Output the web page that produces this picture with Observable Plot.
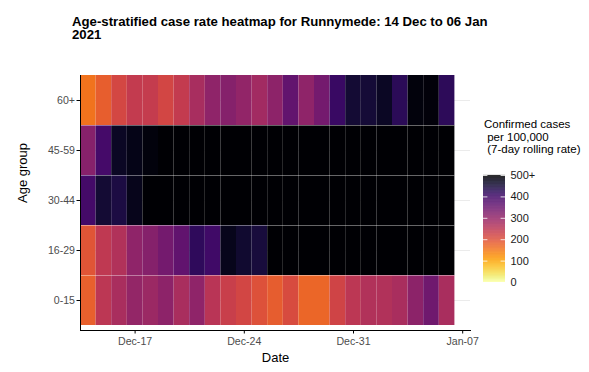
<!DOCTYPE html>
<html>
<head>
<meta charset="utf-8">
<script src="https://cdn.jsdelivr.net/npm/d3@7"></script>
<script src="https://cdn.jsdelivr.net/npm/@observablehq/plot@0.6"></script>
<style>
  body { margin: 0; background: #fff; }
  #chart { position: relative; width: 589px; height: 372px; background: #fff; font-family: "Liberation Sans", Arial, sans-serif; }
  #title { position: absolute; z-index: 2; left: 72px; top: 16px; font-weight: bold; font-size: 13.2px; line-height: 12.5px; color: #000; white-space: pre; }
  #legend-title { position: absolute; z-index: 2; left: 484px; top: 118px; font-size: 11.5px; line-height: 12.5px; color: #000; white-space: pre; }
  #main { position: absolute; z-index: 1; left: 0; top: 0; }
  #legend { position: absolute; z-index: 3; left: 475px; top: 165px; }
  g[aria-label="x-axis tick label"], g[aria-label="y-axis tick label"] { fill: #4d4d4d; }
</style>
</head>
<body>
<div id="chart">
  <div id="title">Age-stratified case rate heatmap for Runnymede: 14 Dec to 06 Jan
2021</div>
  <div id="legend-title">Confirmed cases
 per 100,000
 (7-day rolling rate)</div>
  <div id="main"></div>
  <div id="legend"></div>
</div>
<script>
const dates = ["2020-12-14","2020-12-15","2020-12-16","2020-12-17","2020-12-18","2020-12-19",
  "2020-12-20","2020-12-21","2020-12-22","2020-12-23","2020-12-24","2020-12-25",
  "2020-12-26","2020-12-27","2020-12-28","2020-12-29","2020-12-30","2020-12-31",
  "2021-01-01","2021-01-02","2021-01-03","2021-01-04","2021-01-05","2021-01-06"];
const ageGroups = ["60+", "45-59", "30-44", "16-29", "0-15"];
const rate60plus = [155,180,215,240,238,218,240,275,305,318,302,282,308,360,305,338,410,455,452,468,425,490,492,422];
const rate45to59 = [315,395,468,480,490,560,590,610,630,650,660,670,650,640,620,600,590,580,570,560,555,550,545,540];
const rate30to44 = [398,455,442,475,520,560,590,620,640,660,670,665,650,640,630,610,600,590,580,570,560,555,550,545];
const rate16to29 = [195,245,262,305,318,338,362,420,402,475,458,448,510,530,560,580,600,610,590,580,570,560,550,540];
const rate0to15  = [178,250,272,300,290,308,272,305,252,232,218,200,182,210,170,170,222,250,262,262,272,310,345,272];
const xTicks = ["2020-12-17","2020-12-24","2020-12-31","2021-01-07"];
const xDomain = ["2020-12-13T12:00Z","2021-01-07T12:00Z"];
const legendBreaks = [0,100,200,300,400,500];

const seriesByAge = {"60+": rate60plus, "45-59": rate45to59, "30-44": rate30to44, "16-29": rate16to29, "0-15": rate0to15};
const halfDay = 12 * 3600 * 1000;
const rows = ageGroups.flatMap(age => dates.map((d, i) => {
  const t = new Date(d + "T00:00Z");
  return {age, date: t, x1: new Date(+t - halfDay), x2: new Date(+t + halfDay), rate: seriesByAge[age][i]};
}));

const colorScale = {type: "linear", domain: [0, 500], interpolate: t => d3.interpolateInferno(1 - t), clamp: true};

const main = Plot.plot({
  width: 589, height: 372,
  marginTop: 75, marginBottom: 42, marginLeft: 80, marginRight: 119,
  style: {fontFamily: "'Liberation Sans', Arial, sans-serif", fontSize: "10.6px", background: "transparent", color: "black"},
  x: {type: "utc", domain: xDomain.map(d => new Date(d))},
  y: {domain: ageGroups, padding: 0, insetBottom: 5},
  color: colorScale,
  marks: [
    Plot.gridY({stroke: "#ebebeb", strokeOpacity: 1, strokeWidth: 1}),
    Plot.barX(rows, {x1: "x1", x2: "x2", y: "age", fill: "rate"}),
    Plot.ruleX(dates.slice(1), {x: d => new Date(+new Date(d + "T00:00Z") - halfDay), y1: "60+", y2: "0-15", insetTop: -25, insetBottom: -25, stroke: "#ffffff", strokeOpacity: 0.42, strokeWidth: 1.2}),
    Plot.ruleY(ageGroups.slice(1), {y: d => d, dy: -25, x1: new Date(xDomain[0]), x2: new Date("2021-01-06T12:00Z"), stroke: "#ffffff", strokeOpacity: 0.4, strokeWidth: 1.2}),
    Plot.axisX({ticks: xTicks.map(d => new Date(d + "T00:00Z")), tickFormat: d3.utcFormat("%b-%d"), tickSize: 3.5, tickPadding: 3, label: null}),
    Plot.axisY({tickSize: 3.5, tickPadding: 2, label: null}),
    Plot.frame({anchor: "bottom", stroke: "black"}),
    Plot.frame({anchor: "left", stroke: "black"}),
    Plot.text(["Date"], {frameAnchor: "bottom", dy: 31, fontSize: 13, fill: "black"}),
    Plot.text(["Age group"], {frameAnchor: "left", dx: -58, rotate: -90, fontSize: 13, fill: "black"})
  ]
});
document.getElementById("main").appendChild(main);

const ramp = d3.range(0, 500, 1);
const legend = Plot.plot({
  width: 100, height: 127,
  marginTop: 10, marginBottom: 10, marginLeft: 8, marginRight: 70,
  style: {fontFamily: "'Liberation Sans', Arial, sans-serif", fontSize: "11px", background: "transparent", color: "#1a1a1a"},
  x: {domain: [0, 1], axis: null},
  y: {domain: [0, 500], axis: null},
  color: colorScale,
  marks: [
    Plot.rect(ramp, {x1: 0, x2: 1, y1: d => d, y2: d => d + 1.5, fill: d => d + 0.5}),
    Plot.ruleY(legendBreaks, {x1: 0, x2: 0.2, stroke: "white", strokeWidth: 0.8}),
    Plot.ruleY(legendBreaks, {x1: 0.8, x2: 1, stroke: "white", strokeWidth: 0.8}),
    Plot.text(legendBreaks, {y: d => d, x: 1, dx: 5, textAnchor: "start", text: d => d === 500 ? "500+" : String(d), fill: "#1a1a1a"})
  ]
});
document.getElementById("legend").appendChild(legend);
</script>
</body>
</html>
